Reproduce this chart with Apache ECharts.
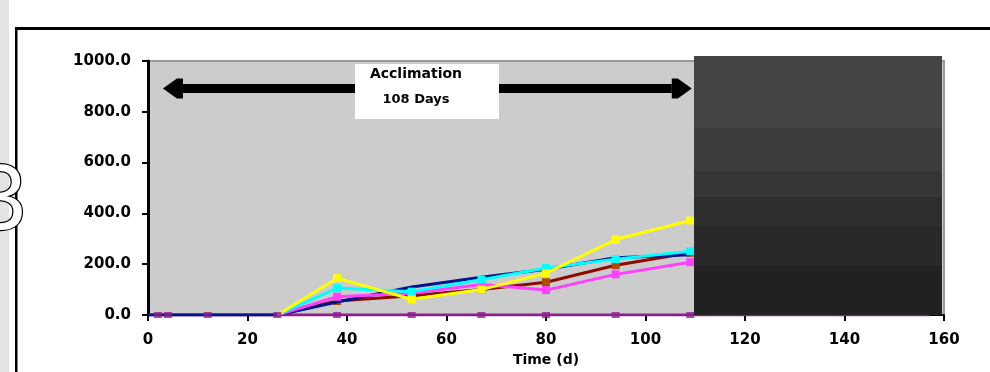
<!DOCTYPE html>
<html>
<head>
<meta charset="utf-8">
<script src="https://cdn.jsdelivr.net/npm/echarts@6/dist/echarts.min.js"></script>
<style>
  html, body { margin: 0; padding: 0; background: #ffffff; }
  #chart { width: 990px; height: 372px; }
</style>
</head>
<body>
<div id="chart"></div>
<script>
// Sampling days (d) shared by the monitored series
const days = [0, 2, 4, 12, 26, 38, 53, 67, 80, 94, 109];

// Series values (null = not yet sampled)
const navySeries    = [0, 0, 0, 0, 0, 51, 110, 149, 180, 225, 237];
const yellowSeries  = [null, null, null, null, 0, 145, 62, 100, 165, 297, 372];
const cyanSeries    = [null, null, null, null, 0, 106, 92, 139, 185, 220, 251];
const magentaSeries = [null, null, null, null, 0, 72, 86, 120, 98, 160, 208];
const redSeries     = [null, null, null, null, 0, 55, 76, 100, 129, 196, 245];

// Baseline series stays at zero through the whole run
const baselineDays   = [0, 2, 4, 12, 26, 38, 53, 67, 80, 94, 109, 157];
const baselineValues = [0, 0, 0, 0, 0, 0, 0, 0, 0, 0, 0, 0];
const baselineMarkDays = [2, 4, 12, 26, 38, 53, 67, 80, 94, 109];

// Axis ticks
const xTicks = [0, 20, 40, 60, 80, 100, 120, 140, 160];
const yTicks = [0, 200, 400, 600, 800, 1000];

// Acclimation period annotation
const acclimationSpan = [3, 109.3];
const acclimationLevel = 892;
const acclimationTitle = 'Acclimation';
const acclimationDays = '108 Days';

const chart = echarts.init(document.getElementById('chart'), null, { renderer: 'canvas' });

function pairs(values, hideZeroStart) {
  const out = [];
  days.forEach((d, i) => {
    const v = values[i];
    if (v === null) return;
    if (hideZeroStart && out.length === 0) {
      out.push({ value: [d, v], symbol: 'none' });
    } else {
      out.push([d, v]);
    }
  });
  return out;
}

function lineSeries(name, values, lineColor, markColor, z, withMarks) {
  return {
    name: name,
    type: 'line',
    data: pairs(values, true),
    symbol: withMarks ? 'rect' : 'none',
    symbolSize: 8,
    showAllSymbol: true,
    lineStyle: { color: lineColor, width: 3 },
    itemStyle: { color: markColor },
    z: z,
    animation: false,
    silent: true
  };
}

const labelFont = { fontFamily: 'DejaVu Sans', fontWeight: 'bold', color: '#000' };

const option = {
  backgroundColor: '#ffffff',
  animation: false,
  grid: {
    left: 148, right: 46, top: 61, bottom: 56,
    show: true,
    backgroundColor: '#cccccc',
    borderColor: '#999999',
    borderWidth: 2
  },
  xAxis: {
    type: 'value',
    min: xTicks[0],
    max: xTicks[xTicks.length - 1],
    interval: xTicks[1] - xTicks[0],
    name: 'Time (d)',
    nameLocation: 'middle',
    nameGap: 38,
    nameTextStyle: Object.assign({ fontSize: 14 }, labelFont),
    axisLine: { show: true, lineStyle: { color: '#000', width: 2 } },
    axisTick: { show: true, inside: false, length: 6, lineStyle: { color: '#000', width: 2 } },
    axisLabel: Object.assign({ fontSize: 15, margin: 18 }, labelFont),
    splitLine: { show: false }
  },
  yAxis: {
    type: 'value',
    min: yTicks[0],
    max: yTicks[yTicks.length - 1],
    interval: yTicks[1] - yTicks[0],
    axisLine: { show: true, lineStyle: { color: '#000', width: 3 } },
    axisTick: { show: true, inside: false, length: 6, lineStyle: { color: '#000', width: 2 } },
    axisLabel: Object.assign({ fontSize: 15, margin: 17, formatter: v => v.toFixed(1) }, labelFont),
    splitLine: { show: false }
  },
  series: [
    {
      name: 'baseline',
      type: 'line',
      data: baselineDays.map((d, i) => [d, baselineValues[i]]),
      symbol: 'none',
      lineStyle: { color: '#8e1e8e', width: 3 },
      z: 1, animation: false, silent: true
    },
    lineSeries('red', redSeries, '#8c0a00', '#b04c00', 2, true),
    {
      name: 'navy',
      type: 'line',
      data: days.map((d, i) => [d, navySeries[i]]),
      symbol: 'none',
      lineStyle: { color: '#00148c', width: 3 },
      z: 3, animation: false, silent: true
    },
    lineSeries('magenta', magentaSeries, '#ff40ff', '#ff40ff', 4, true),
    lineSeries('cyan', cyanSeries, '#00ffff', '#00ffff', 5, true),
    lineSeries('yellow', yellowSeries, '#ffff00', '#ffff00', 6, true),
    {
      name: 'baseline marks',
      type: 'scatter',
      data: baselineMarkDays.map(d => [d, baselineValues[baselineDays.indexOf(d)]]),
      symbol: 'rect',
      symbolSize: [8, 6],
      itemStyle: { color: '#8e1e8e' },
      z: 7, animation: false, silent: true
    }
  ]
};

chart.setOption(option);

// Decorations: page frame, panel number, legend block and the acclimation arrow
const left = chart.convertToPixel({ xAxisIndex: 0 }, acclimationSpan[0]);
const right = chart.convertToPixel({ xAxisIndex: 0 }, acclimationSpan[1]);
const yMid = chart.convertToPixel({ yAxisIndex: 0 }, acclimationLevel);
const half = 4.5, headH = 10, headLen = 14, headBar = 6;

chart.setOption({
  graphic: [
    { type: 'rect', z: 0, shape: { x: 0, y: 0, width: 9, height: 372 }, style: { fill: '#e3e3e3' } },
    { type: 'rect', z: 1, shape: { x: 15, y: 27, width: 980, height: 3 }, style: { fill: '#000' } },
    { type: 'rect', z: 1, shape: { x: 15, y: 27, width: 2.5, height: 350 }, style: { fill: '#000' } },
    {
      type: 'text', z: 2,
      style: {
        text: '3', x: 26, y: 204,
        align: 'right', verticalAlign: 'middle',
        font: '92px "Liberation Sans"',
        fill: '#ffffff', stroke: '#000000', lineWidth: 2.5,
        textShadowColor: '#000', textShadowOffsetX: 3, textShadowOffsetY: 3, textShadowBlur: 0
      }
    },
    {
      type: 'rect', z: 50,
      shape: { x: 694, y: 56, width: 248, height: 259 },
      style: {
        fill: new echarts.graphic.LinearGradient(0, 0, 0, 1, [
          { offset: 0, color: '#444444' }, { offset: 0.278, color: '#444444' },
          { offset: 0.278, color: '#3d3d3d' }, { offset: 0.444, color: '#3d3d3d' },
          { offset: 0.444, color: '#363636' }, { offset: 0.544, color: '#363636' },
          { offset: 0.544, color: '#2e2e2e' }, { offset: 0.656, color: '#2e2e2e' },
          { offset: 0.656, color: '#292929' }, { offset: 0.811, color: '#292929' },
          { offset: 0.811, color: '#212121' }, { offset: 1, color: '#212121' }
        ])
      }
    },
    {
      type: 'rect', z: 40,
      shape: { x: left + headLen + headBar, y: yMid - half, width: (right - left) - 2 * (headLen + headBar), height: half * 2 },
      style: { fill: '#000' }
    },
    {
      type: 'polygon', z: 40,
      shape: { points: [[left, yMid], [left + headLen, yMid - headH], [left + headLen + headBar, yMid - headH], [left + headLen + headBar, yMid + headH], [left + headLen, yMid + headH]] },
      style: { fill: '#000' }
    },
    {
      type: 'polygon', z: 40,
      shape: { points: [[right, yMid], [right - headLen, yMid - headH], [right - headLen - headBar, yMid - headH], [right - headLen - headBar, yMid + headH], [right - headLen, yMid + headH]] },
      style: { fill: '#000' }
    },
    { type: 'rect', z: 41, shape: { x: 355, y: 64, width: 144, height: 55 }, style: { fill: '#ffffff' } },
    {
      type: 'text', z: 42,
      style: { text: acclimationTitle, x: 416, y: 74, align: 'center', verticalAlign: 'middle', font: 'bold 14px "DejaVu Sans"', fill: '#000' }
    },
    {
      type: 'text', z: 42,
      style: { text: acclimationDays, x: 416, y: 100, align: 'center', verticalAlign: 'middle', font: 'bold 13px "DejaVu Sans"', fill: '#000' }
    }
  ]
});
</script>
</body>
</html>
